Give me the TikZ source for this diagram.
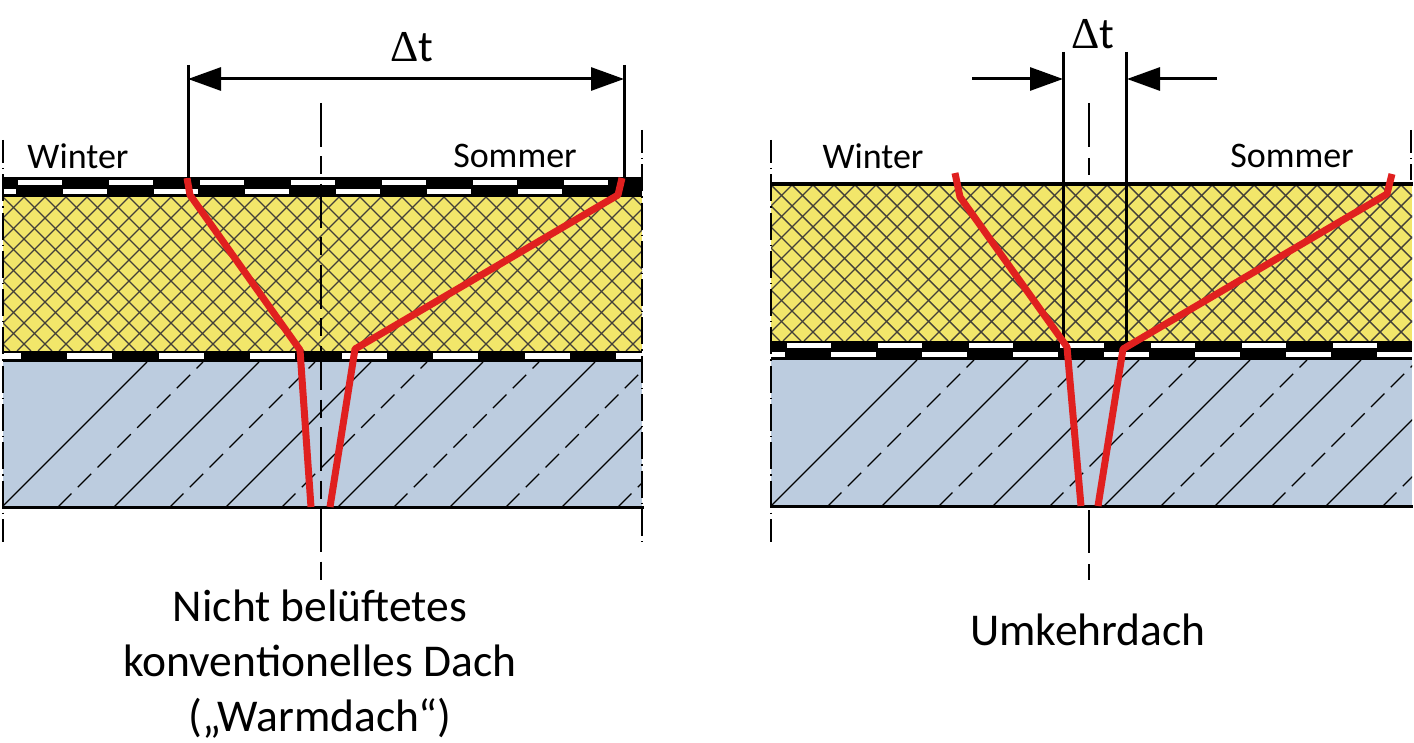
\documentclass[tikz,border=0pt]{standalone}
\usepackage{fontspec}
\setmainfont{Carlito}
\newfontfamily\deltafont{Liberation Serif}
\usetikzlibrary{arrows.meta}
\definecolor{insulation}{HTML}{F2E66A}
\definecolor{concrete}{HTML}{BCCCDF}
\definecolor{tempred}{HTML}{E0201F}
\tikzset{
  crosshatch/.style={draw=black!85!yellow,line width=1.4pt},
  solidhatch/.style={draw=black,line width=1.3pt},
  dashhatch/.style={draw=black,line width=1.3pt,dash pattern=on 19pt off 9pt},
  templine/.style={draw=tempred,line width=7pt,line join=round},
  edgeline/.style={draw=black,line width=2.5pt,dash pattern=on 27pt off 5pt on 1.3pt off 5pt,dash phase=4pt},
  axisline/.style={draw=black,line width=2.4pt,dash pattern=on 44pt off 9.5pt on 18pt off 9.5pt},
  dimline/.style={draw=black,line width=3pt},
  dimarrow/.style={dimline,-{Triangle[length=33pt,width=23pt]}},
  seasontext/.style={font=\fontsize{36}{40}\selectfont,inner sep=0pt},
  captiontext/.style={font=\fontsize{45.5}{55}\selectfont,inner sep=0pt,align=center},
  deltatext/.style={font=\fontsize{44}{46}\selectfont,inner sep=0pt}
}
\begin{document}
\begin{tikzpicture}[x=1pt,y=-1pt]
\useasboundingbox (0,0) rectangle (1414,743);
% left roof: layers
\fill[insulation] (3,197) rectangle (642,351);
\fill[concrete] (3,362) rectangle (642,507);
\begin{scope}
  \clip (3,197) rectangle (642,351);
  \foreach \i in {-8,...,40} {
    \draw[crosshatch] ({3+21*\i},197) -- ++(154,154);
    \draw[crosshatch] ({3+21*\i},197) -- ++(-154,154);
  }
\end{scope}
\begin{scope}
  \clip (3,362) rectangle (642,507);
  \foreach \i in {0,...,6} {
    \draw[solidhatch] ({2+112*\i},507) -- ++(145,-145);
    \draw[dashhatch] ({58+112*\i},507) -- ++(145,-145);
  }
\end{scope}
% left roof: membranes
\fill[black] (3,177) rectangle (642,197);
\fill[black] (3,351) rectangle (642,362);
\begin{scope}
  \clip (3,177) rectangle (642,197);
  \foreach \i in {0,...,6} {
    \fill[white] ({18+91*\i},180) rectangle ++(44,5);
    \fill[white] ({-28+91*\i},189) rectangle ++(44,5);
  }
\end{scope}
\begin{scope}
  \clip (3,351) rectangle (642,362);
  \foreach \i in {0,...,7} {
    \fill[white] ({-24.5+91.5*\i},353) rectangle ++(45,6);
  }
\end{scope}
\draw[black,line width=3pt] (2,507) -- (644,507);
\draw[edgeline] (3,140) -- (3,542);
\draw[edgeline] (642,130) -- (642,542);
\draw[axisline] (321,103) -- (321,582);
% left roof: temperature
\draw[templine] (187,178) -- (190,195) -- (300,350) -- (311,507);
\draw[templine] (622,178) -- (618,195) -- (355,349) -- (330,507);
% left roof: dimension
\coordinate (leftw) at (188,79);
\coordinate (lefts) at (624,79);
\draw[dimline] (188,65) -- (188,178);
\draw[dimline] (624,65) -- (624,178);
\draw[dimline,{Triangle[length=33pt,width=23pt]}-{Triangle[length=33pt,width=23pt]}] (leftw) -- (lefts);
\node[deltatext] (deltaleft) at (412,47) {{\deltafont Δ}t};
\node[seasontext] (winterleft) at (78,156) {Winter};
\node[seasontext] (sommerleft) at (515,156) {Sommer};
\node[captiontext] (captionleft) at (320,664) {Nicht belüftetes\\konventionelles Dach\\(„Warmdach“)};
% right roof: layers
\fill[insulation] (771,185) rectangle (1412,341);
\fill[concrete] (771,360) rectangle (1412,506);
\begin{scope}
  \clip (771,185) rectangle (1412,341);
  \foreach \i in {-8,...,40} {
    \draw[crosshatch] ({771+21*\i},185) -- ++(156,156);
    \draw[crosshatch] ({771+21*\i},185) -- ++(-156,156);
  }
\end{scope}
\begin{scope}
  \clip (771,360) rectangle (1412,506);
  \foreach \i in {0,...,6} {
    \draw[solidhatch] ({771+111*\i},506) -- ++(146,-146);
    \draw[dashhatch] ({828+111*\i},506) -- ++(146,-146);
  }
\end{scope}
% right roof: membrane
\fill[black] (771,341) rectangle (1412,360);
\begin{scope}
  \clip (771,341) rectangle (1412,360);
  \foreach \i in {-1,...,7} {
    \fill[white] ({787+91*\i},343) rectangle ++(44,5);
    \fill[white] ({831+91*\i},352) rectangle ++(45,5);
  }
\end{scope}
\draw[black,line width=3.4pt] (770,184) -- (1413,184);
\draw[black,line width=3pt] (770,506) -- (1413,506);
\draw[edgeline] (771,140) -- (771,542);
\draw[edgeline] (1411,130) -- (1411,180);
\draw[black,line width=2.4pt] (1089,103) -- (1089,147);
\draw[black,line width=2.4pt] (1089,158) -- (1089,175);
\draw[black,line width=2.4pt] (1089,510) -- (1089,553);
\draw[black,line width=2.4pt] (1089,564) -- (1089,580);
% right roof: dimension
\coordinate (rightw) at (1063,79);
\coordinate (rights) at (1127,79);
\coordinate (rightwfree) at (972,79);
\coordinate (rightsfree) at (1217,79);
\draw[dimline] (1063,52) -- (1063,341);
\draw[dimline] (1126.5,52) -- (1126.5,341);
\draw[dimarrow] (rightwfree) -- (rightw);
\draw[dimarrow] (rightsfree) -- (rights);
% right roof: temperature
\draw[templine] (955,173) -- (960,197) -- (1067,347) -- (1081,506);
\draw[templine] (1392,174) -- (1387,194) -- (1123,349) -- (1098,506);
\node[deltatext] (deltaright) at (1093,34) {{\deltafont Δ}t};
\node[seasontext] (winterright) at (873,156) {Winter};
\node[seasontext] (sommerright) at (1292,156) {Sommer};
\node[captiontext] (captionright) at (1088,630) {Umkehrdach};
\end{tikzpicture}
\end{document}
